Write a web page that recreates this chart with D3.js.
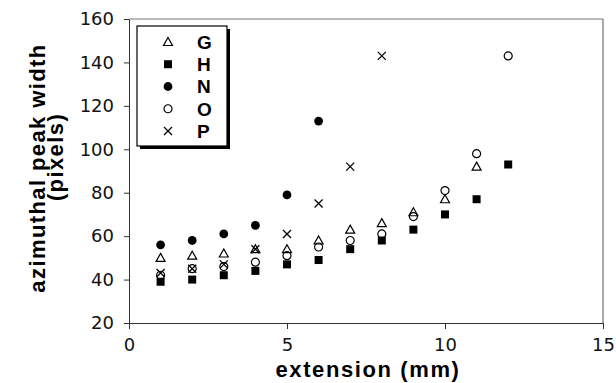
<!DOCTYPE html>
<html>
<head>
<meta charset="utf-8">
<script src="https://cdn.jsdelivr.net/npm/d3@7"></script>
<style>
  body { margin: 0; background: #fff; }
  svg { display: block; }
</style>
</head>
<body>
<svg width="616" height="383"></svg>
<script>
// extension values (mm) shared by every series, values paired by index
var extension = [1, 2, 3, 4, 5, 6, 7, 8, 9, 10, 11, 12];
var seriesG = [50, 51, 52, 54, 54, 58, 63, 66, 71, 77, 92];
var seriesH = [39, 40, 42, 44, 47, 49, 54, 58, 63, 70, 77, 93];
var seriesN = [56, 58, 61, 65, 79, 113];
var seriesO = [42, 45, 46, 48, 51, 55, 58, 61, 69, 81, 98, 143];
var seriesP = [43, 45, 47, 54, 61, 75, 92, 143];
var names = ["G", "H", "N", "O", "P"];
var xTicks = [0, 5, 10, 15];
var yTicks = [20, 40, 60, 80, 100, 120, 140, 160];

var svg = d3.select("svg"),
  margin = { top: 19, right: 13, bottom: 60, left: 129 },
  width = +svg.attr("width") - margin.left - margin.right,
  height = +svg.attr("height") - margin.top - margin.bottom,
  g = svg.append("g")
    .attr("transform", "translate(" + margin.left + "," + margin.top + ")");

var x = d3.scaleLinear().domain([0, 15]).range([0, width]);
var y = d3.scaleLinear().domain([20, 160]).range([height, 0]);

// frame (top + right)
g.append("line").attr("x1", 0).attr("x2", width).attr("y1", 0).attr("y2", 0)
  .attr("stroke", "#777").attr("stroke-width", 1);
g.append("line").attr("x1", width).attr("x2", width).attr("y1", 0).attr("y2", height)
  .attr("stroke", "#555").attr("stroke-width", 1);

// axes
var xAxis = g.append("g")
  .attr("transform", "translate(0," + height + ")")
  .call(d3.axisBottom(x).tickValues(xTicks).tickSize(6).tickPadding(9).tickSizeOuter(0));
var yAxis = g.append("g")
  .call(d3.axisLeft(y).tickValues(yTicks).tickSize(5).tickPadding(10).tickSizeOuter(0));

[xAxis, yAxis].forEach(function(a) {
  a.attr("font-family", null).attr("font-size", null);
  a.select(".domain").attr("stroke", "#333");
  a.selectAll(".tick line").attr("stroke", "#333");
  a.selectAll(".tick text")
    .attr("fill", "#111")
    .style("font-family", "'DejaVu Sans'")
    .style("font-size", "18px");
});

// axis titles
var titleFont = "'Liberation Sans', Arial, sans-serif";
svg.append("text")
  .attr("x", 368).attr("y", 377)
  .attr("text-anchor", "middle")
  .style("font-family", titleFont)
  .style("font-weight", "bold")
  .style("font-size", "22px")
  .style("letter-spacing", "1.6px")
  .text("extension (mm)");

svg.append("text")
  .attr("transform", "translate(45,168) rotate(-90)")
  .attr("text-anchor", "middle")
  .style("font-family", titleFont)
  .style("font-weight", "bold")
  .style("font-size", "22px")
  .style("letter-spacing", "1.4px")
  .text("azimuthal peak width");

svg.append("text")
  .attr("transform", "translate(63,157) rotate(-90)")
  .attr("text-anchor", "middle")
  .style("font-family", titleFont)
  .style("font-weight", "bold")
  .style("font-size", "22px")
  .style("letter-spacing", "1.4px")
  .text("(pixels)");

// marker drawing helpers
function drawMarker(sel, type) {
  if (type === "G") {
    sel.append("path").attr("d", "M0,-4.5L4.5,3.5L-4.5,3.5Z")
      .attr("fill", "#fff").attr("stroke", "#000").attr("stroke-width", 1.2);
  } else if (type === "H") {
    sel.append("rect").attr("x", -4).attr("y", -4).attr("width", 8).attr("height", 8)
      .attr("fill", "#000");
  } else if (type === "N") {
    sel.append("circle").attr("r", 4.4).attr("fill", "#000");
  } else if (type === "O") {
    sel.append("circle").attr("r", 4).attr("fill", "none")
      .attr("stroke", "#000").attr("stroke-width", 1.2);
  } else if (type === "P") {
    sel.append("path").attr("d", "M-4,-4L4,4M-4,4L4,-4")
      .attr("stroke", "#000").attr("stroke-width", 1.3);
  }
}

var seriesData = { G: seriesG, H: seriesH, N: seriesN, O: seriesO, P: seriesP };
var drawOrder = ["H", "N", "G", "O", "P"];

drawOrder.forEach(function(name) {
  var pts = seriesData[name].map(function(v, i) { return { x: extension[i], y: v }; });
  g.selectAll(".pt-" + name)
    .data(pts)
    .enter()
    .append("g")
    .attr("class", "pt-" + name)
    .attr("transform", function(d) { return "translate(" + x(d.x) + "," + y(d.y) + ")"; })
    .each(function() { drawMarker(d3.select(this), name); });
});

// legend with drop shadow
var lg = svg.append("g");
lg.append("rect").attr("x", 140).attr("y", 29).attr("width", 90).attr("height", 120)
  .attr("fill", "#000");
lg.append("rect").attr("x", 137).attr("y", 26).attr("width", 90).attr("height", 120)
  .attr("fill", "#fff").attr("stroke", "#000").attr("stroke-width", 1.2);

var rowY = d3.scalePoint().domain(names).range([42, 131]);
names.forEach(function(name) {
  var row = lg.append("g").attr("transform", "translate(168," + rowY(name) + ")");
  drawMarker(row, name);
  lg.append("text")
    .attr("x", 197).attr("y", rowY(name))
    .attr("dy", "0.36em")
    .style("font-family", titleFont)
    .style("font-weight", "bold")
    .style("font-size", "19px")
    .text(name);
});
</script>
</body>
</html>
